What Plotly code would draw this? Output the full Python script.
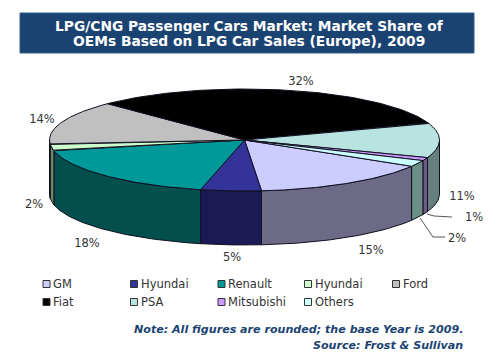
import numpy as np
import plotly.graph_objects as go

# --- data ---
categories = ["GM", "Hyundai", "Renault", "Hyundai", "Ford", "Fiat", "PSA", "Mitsubishi", "Others"]
shares = [15, 5, 18, 2, 14, 32, 11, 1, 2]
top_colors = ["#CCCCFF", "#333399", "#009999", "#CCFFCC", "#C0C0C0", "#000000", "#B9E3E1", "#CC99FF", "#CCFFFF"]
side_colors = ["#6C6A86", "#1C1A55", "#034F4D", "#6C8A66", "#6A6A6A", "#000000", "#647F7E", "#6E5A86", "#6C8F85"]
title_lines = ["LPG/CNG Passenger Cars Market: Market Share of", "OEMs Based on LPG Car Sales (Europe), 2009"]
note_lines = ["Note: All figures are rounded; the base Year is 2009.", "Source: Frost &amp; Sullivan"]

# --- layout constants ---
CX, CY, A, B, DEPTH = 244.5, 140.0, 195.0, 51.0, 54.0
START = -59.0
EDGE = "#101020"
NAVY = "#1B4372"
TEXT = "#333333"
FONT = "DejaVu Sans"

label_pos = [(371, 251), (232, 258), (87, 244), (34, 205), (42, 120), (301, 82), (462, 197), (474, 218), (457, 239)]
leaders = [((427, 214), (434, 216), (452, 217)), ((420, 218), (433, 237), (445, 237))]
legend_x = [46.5, 134, 221.5, 308, 396]
legend_y = [284, 302]


def px(t):
    return CX - A * np.sin(np.radians(t))


def py(t, z=0.0):
    return CY + B * np.cos(np.radians(t)) + z


fig = go.Figure()
edges = START + np.concatenate([[0], np.cumsum(shares)]) * 3.6

# side walls (only the front half of the rim is visible); slices past 270 wrap back to the right side
for i, (s, e) in enumerate(zip(edges[:-1], edges[1:])):
    if s >= 180:
        s, e = s - 360, e - 360
    lo, hi = max(s, -90), min(e, 90)
    if lo >= hi:
        continue
    t = np.linspace(lo, hi, 60)
    xs = np.concatenate([px(t), px(t[::-1])])
    ys = np.concatenate([py(t), py(t[::-1], DEPTH)])
    fig.add_trace(go.Scatter(x=np.r_[xs, xs[0]], y=np.r_[ys, ys[0]], mode="lines", fill="toself",
                             fillcolor=side_colors[i], line=dict(color=EDGE, width=1),
                             hoverinfo="skip", showlegend=False))

# top faces
for i, (s, e) in enumerate(zip(edges[:-1], edges[1:])):
    t = np.linspace(s, e, 80)
    fig.add_trace(go.Scatter(x=np.r_[CX, px(t), CX], y=np.r_[CY, py(t), CY], mode="lines", fill="toself",
                             fillcolor=top_colors[i], line=dict(color=EDGE, width=1),
                             name=categories[i], text=f"{categories[i]}: {shares[i]}%", hoverinfo="text",
                             showlegend=False))

# value labels
fig.add_trace(go.Scatter(x=[p[0] for p in label_pos], y=[p[1] for p in label_pos], mode="text",
                         text=[f"{v}%" for v in shares], textposition="middle center",
                         textfont=dict(family=FONT, size=11.5, color=TEXT),
                         hoverinfo="skip", showlegend=False))

# leader lines
for pts in leaders:
    fig.add_trace(go.Scatter(x=[p[0] for p in pts], y=[p[1] for p in pts], mode="lines",
                             line=dict(color="#555555", width=1), hoverinfo="skip", showlegend=False))

# legend swatches
for i, name in enumerate(categories):
    fig.add_trace(go.Scatter(x=[legend_x[i % 5]], y=[legend_y[i // 5]], mode="markers",
                             marker=dict(symbol="square", size=7, color=top_colors[i], line=dict(color="#333333", width=1)),
                             name=name, hoverinfo="skip", showlegend=False))

annotations = [
    dict(x=249, y=26 + 15 * k, text=f"<b>{line}</b>", showarrow=False, xanchor="center", yanchor="middle",
         font=dict(family=FONT, size=13.8, color="white"))
    for k, line in enumerate(title_lines)
] + [
    dict(x=465, y=329 + 16 * k, text=f"<b><i>{line}</i></b>", showarrow=False, xanchor="right", yanchor="middle",
         font=dict(family=FONT, size=11.1, color=NAVY))
    for k, line in enumerate(note_lines)
] + [
    dict(x=legend_x[i % 5] + 4.5, y=legend_y[i // 5], text=name, showarrow=False, xanchor="left", yanchor="middle",
         font=dict(family=FONT, size=11.5, color=TEXT))
    for i, name in enumerate(categories)
]
for a in annotations:
    a.update(xref="x", yref="y")

fig.update_layout(
    width=500, height=354, margin=dict(l=0, r=0, t=0, b=0),
    paper_bgcolor="white", plot_bgcolor="white",
    xaxis=dict(range=[0, 500], visible=False, fixedrange=True),
    yaxis=dict(range=[354, 0], visible=False, fixedrange=True),
    shapes=[dict(type="rect", xref="x", yref="y", x0=20, x1=474, y0=13, y1=53,
                 fillcolor=NAVY, line=dict(color="#2F5C8F", width=1), layer="below")],
    annotations=annotations,
    showlegend=False,
)
fig.write_html("out.html", config=dict(displayModeBar=False),
               post_script="document.body.style.margin='0';document.documentElement.style.overflow='hidden';")
